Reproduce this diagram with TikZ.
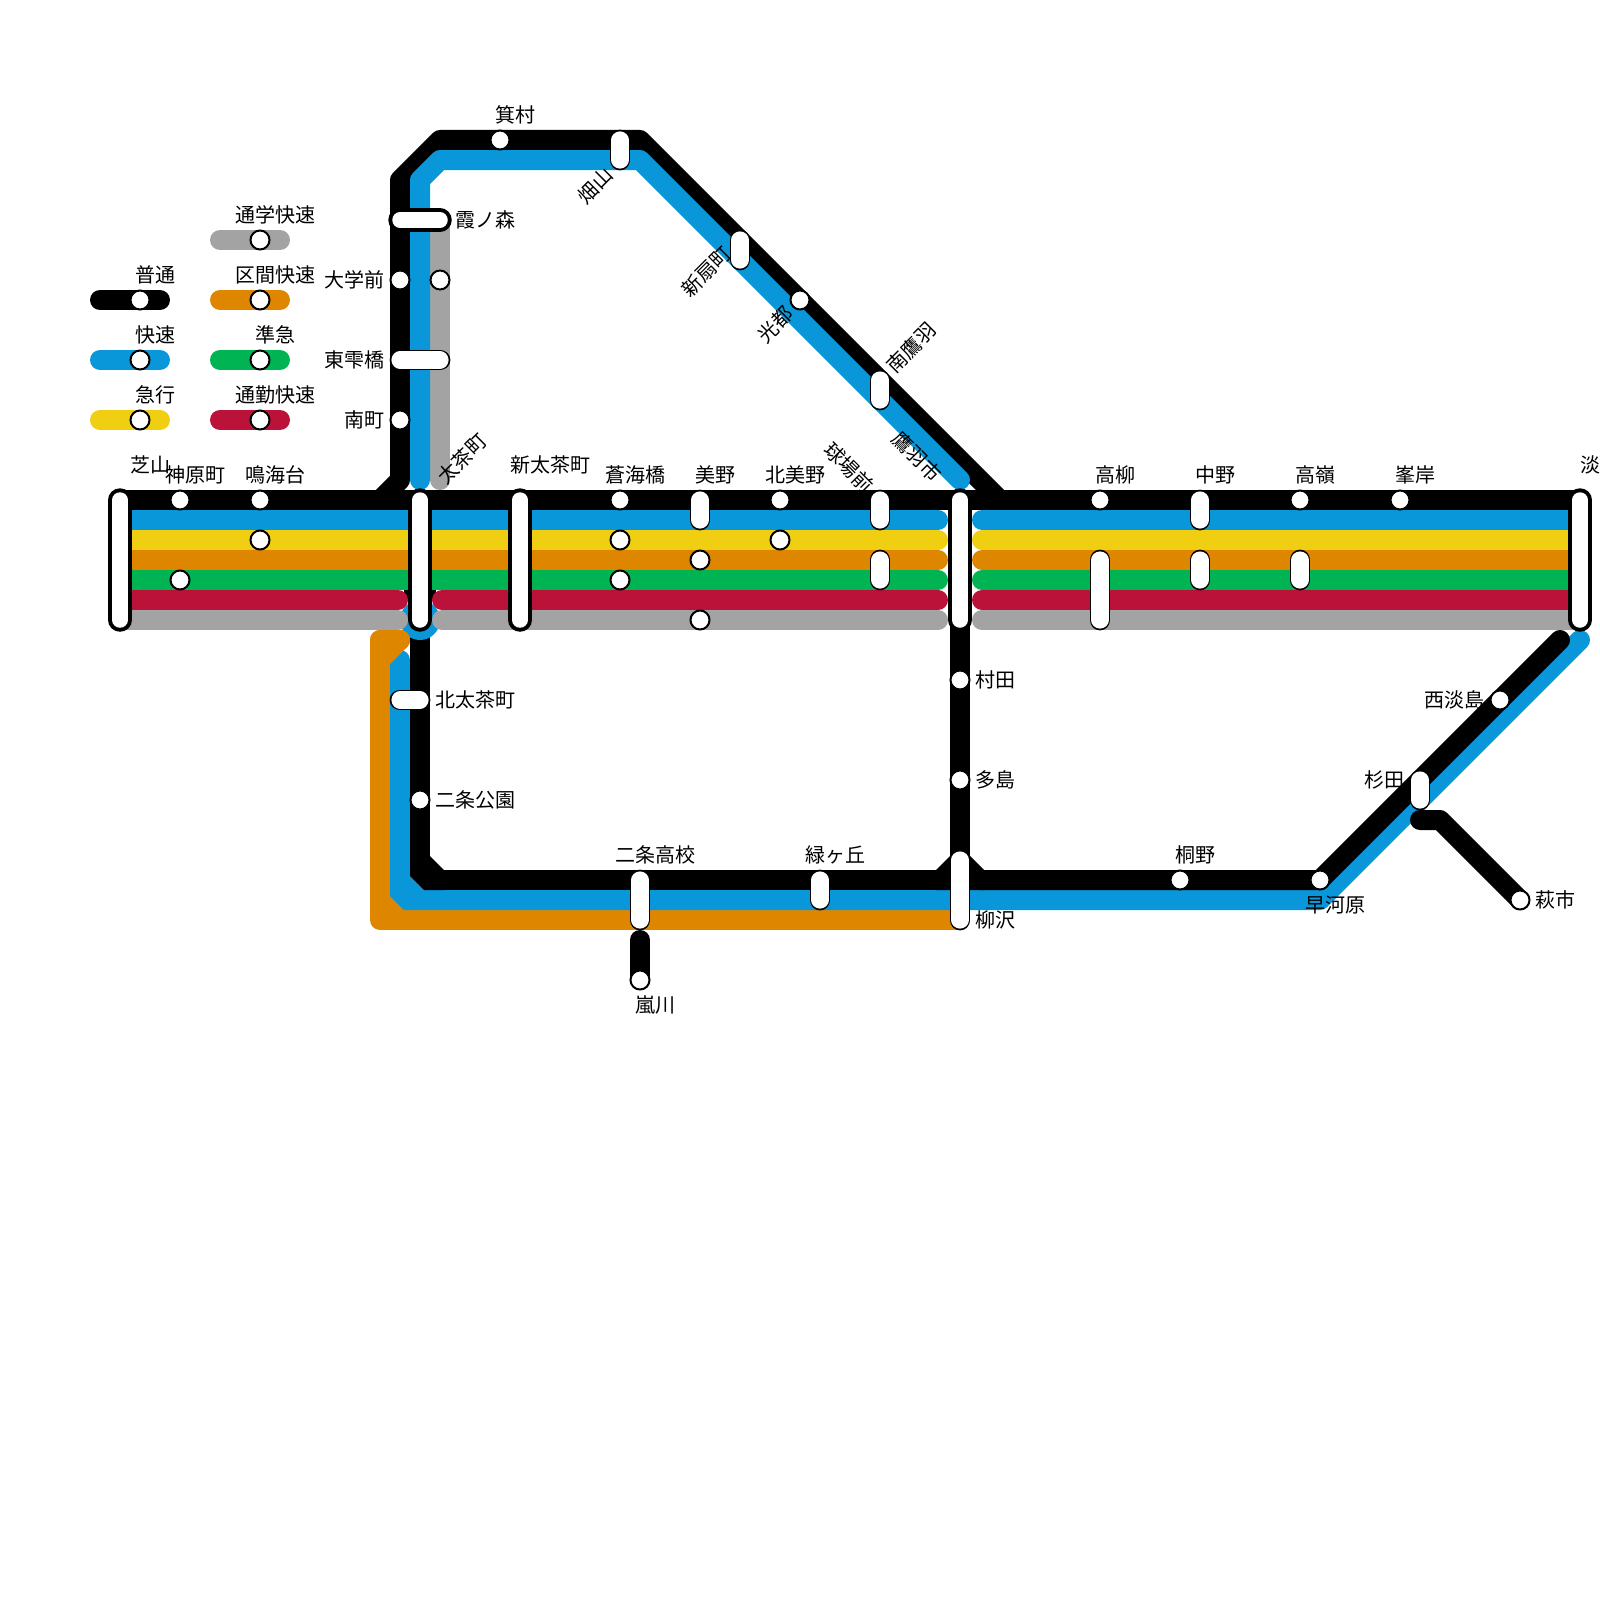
\documentclass[tikz,border=0pt]{standalone}
\usepackage{fontspec}
\setmainfont{Noto Sans CJK JP}
\definecolor{cblue}{HTML}{0A97D9}
\definecolor{cyel}{HTML}{F0CF13}
\definecolor{corg}{HTML}{DE8600}
\definecolor{cgrn}{HTML}{00B454}
\definecolor{cred}{HTML}{BB1239}
\definecolor{cgry}{HTML}{A3A3A3}
\tikzset{
  rail/.style={line width=20pt,line cap=round,line join=round},
  railb/.style={line width=20pt,line cap=butt,line join=round},
  stn/.style={circle,draw=black,fill=white,line width=2pt,minimum size=19pt,inner sep=0pt},
  capsule/.style={line cap=round,draw=black,double=white,line width=1.8pt,double distance=17.2pt},
  bigbar/.style={line cap=round,draw=black,double=white,line width=4pt,double distance=15.5pt},
  lab/.style={inner sep=0pt,font=\fontsize{20}{24}\selectfont,yshift=-0.6pt},
}
\begin{document}
\begin{tikzpicture}[x=1pt,y=-1pt]
\useasboundingbox (0,0) rectangle (1600,1600);
% gray and black trunk
\draw[rail,cgry] (440,220)--(440,480);
\draw[railb,black] (120,500)--(1580,500);
\draw[railb,black] (380,500)--(400,480)--(400,180)--(440,140)--(640,140)--(1000,500);
\draw[rail,cblue] (420,480)--(420,180)--(440,160)--(640,160)--(960,480);
% verticals
\draw[railb,black] (420,500)--(420,870);
\draw[railb,black] (960,500)--(960,870);
\fill[black] (404,590) rectangle (436,601);
\fill[cblue] (420,620) circle (20);
% lower routes
\draw[rail,corg] (400,640)--(380,640)--(380,920)--(960,920);
\fill[corg] (385,890)--(385,915)--(410,915)--cycle;
\fill[cblue] (390,880)--(390,896)--(404,910)--(430,910)--(430,890)--(424,890)--(410,876)--(410,880)--cycle;
\draw[rail,cblue] (400,660)--(400,880);
\draw[rail,corg] (400,640)--(380,640)--(380,700);
\draw[rail,corg] (400,640)--(380,660);
\draw[rail,cblue] (430,900)--(1320,900)--(1580,640);
\fill[black] (410,860)--(430,860)--(430,856)--(444,870)--(444,890)--(424,890)--(410,876)--cycle;
\draw[railb,black] (440,880)--(940,880);
\fill[black] (936,890)--(936,870)--(950,856)--(970,856)--(984,870)--(984,890)--cycle;
\draw[rail,black] (980,880)--(1320,880)--(1560,640);
\draw[rail,black] (640,940)--(640,980);
\draw[rail,black] (1420,820)--(1440,820)--(1520,900);
% bands left and centre
\draw[rail,cgry] (442,620)--(938,620);
\draw[rail,cgry] (130,620)--(398,620);
\draw[railb,cgry] (120,620)--(130,620);
\draw[rail,cred] (442,600)--(938,600);
\draw[rail,cred] (130,600)--(398,600);
\draw[railb,cred] (120,600)--(130,600);
\foreach \yy/\cc in {580/cgrn,560/corg,540/cyel,520/cblue}{
  \draw[rail,\cc] (130,\yy)--(938,\yy);
  \draw[railb,\cc] (120,\yy)--(130,\yy);
}
% bands right
\foreach \yy/\cc in {620/cgry,600/cred,580/cgrn,560/corg,540/cyel,520/cblue}{
  \draw[rail,\cc] (982,\yy)--(1570,\yy);
  \draw[railb,\cc] (1570,\yy)--(1580,\yy);
}
% legend
\foreach \xa/\xb/\xc/\yy/\cc in {100/160/140/300/black,100/160/140/360/cblue,100/160/140/420/cyel,220/280/260/240/cgry,220/280/260/300/corg,220/280/260/360/cgrn,220/280/260/420/cred}{
  \draw[rail,\cc] (\xa,\yy)--(\xb,\yy);
  \node[stn] at (\xc,\yy) {};
}
\node[lab] (lgA) at (155,274) {普通};
\node[lab] (lgB) at (155,334) {快速};
\node[lab] (lgC) at (155,394) {急行};
\node[lab] (lgD) at (275,214) {通学快速};
\node[lab] (lgE) at (275,274) {区間快速};
\node[lab] (lgF) at (275,334) {準急};
\node[lab] (lgG) at (275,394) {通勤快速};
% big bars
\foreach \xx in {120,420,520,960,1580}{
  \draw[bigbar] (\xx,500)--(\xx,620);
}
\draw[bigbar] (400,220)--(440,220);
% capsules
\draw[capsule] (400,360)--(440,360);
\draw[capsule] (400,700)--(420,700);
\draw[capsule] (620,140)--(620,160);
\draw[capsule] (740,240)--(740,260);
\draw[capsule] (880,380)--(880,400);
\draw[capsule] (700,500)--(700,520);
\draw[capsule] (880,500)--(880,520);
\draw[capsule] (880,560)--(880,580);
\draw[capsule] (1100,560)--(1100,620);
\draw[capsule] (1200,500)--(1200,520);
\draw[capsule] (1200,560)--(1200,580);
\draw[capsule] (1300,560)--(1300,580);
\draw[capsule] (960,860)--(960,920);
\draw[capsule] (640,880)--(640,920);
\draw[capsule] (820,880)--(820,900);
\draw[capsule] (1420,780)--(1420,800);
% circles
\foreach \xx/\yy in {500/140,800/300,400/280,440/280,400/420,180/500,180/580,260/500,260/540,620/500,620/540,620/580,700/560,700/620,780/500,780/540,1100/500,1300/500,1400/500,420/800,960/680,960/780,1180/880,1320/880,640/980,1500/700,1520/900}{
  \node[stn] at (\xx,\yy) {};
}
% station labels
\node[lab] (sA) at (150,464) {芝山};
\node[lab] (sB) at (195,474) {神原町};
\node[lab] (sC) at (275,474) {鳴海台};
\node[lab] (sD) at (550,464) {新太茶町};
\node[lab] (sE) at (635,474) {蒼海橋};
\node[lab] (sF) at (715,474) {美野};
\node[lab] (sG) at (795,474) {北美野};
\node[lab] (sH) at (1115,474) {高柳};
\node[lab] (sI) at (1215,474) {中野};
\node[lab] (sJ) at (1315,474) {高嶺};
\node[lab] (sK) at (1415,474) {峯岸};
\node[lab] (sL) at (1590,464) {淡};
\node[lab] (sM) at (515,114) {箕村};
\node[lab,anchor=west] (sN) at (455,219) {霞ノ森};
\node[lab,anchor=east] (sO) at (385,279) {大学前};
\node[lab,anchor=east] (sP) at (385,359) {東雫橋};
\node[lab,anchor=east] (sQ) at (385,419) {南町};
\node[lab,anchor=west] (sR) at (435,699) {北太茶町};
\node[lab,anchor=west] (sS) at (435,799) {二条公園};
\node[lab,anchor=west] (sT) at (975,679) {村田};
\node[lab,anchor=west] (sU) at (975,779) {多島};
\node[lab,anchor=west] (sV) at (975,919) {柳沢};
\node[lab] (sW) at (655,854) {二条高校};
\node[lab] (sX) at (835,854) {緑ヶ丘};
\node[lab] (sY) at (1195,854) {桐野};
\node[lab] (sZ) at (1335,904) {早河原};
\node[lab] (tA) at (655,1004) {嵐川};
\node[lab,anchor=east] (tB) at (1485,699) {西淡島};
\node[lab,anchor=east] (tC) at (1405,779) {杉田};
\node[lab,anchor=west] (tD) at (1535,899) {萩市};
\node[lab,rotate=45] (tE) at (462,458) {太茶町};
\node[lab,rotate=45] (tF) at (911,347) {南鷹羽};
\node[lab,rotate=-45] (tG) at (917,456) {鷹羽市};
\node[lab,rotate=-45] (tH) at (849,467) {球場前};
\node[lab,rotate=45] (tI) at (595,185) {畑山};
\node[lab,rotate=45] (tJ) at (706,271) {新扇町};
\node[lab,rotate=45] (tK) at (775,324) {光都};
\end{tikzpicture}
\end{document}
